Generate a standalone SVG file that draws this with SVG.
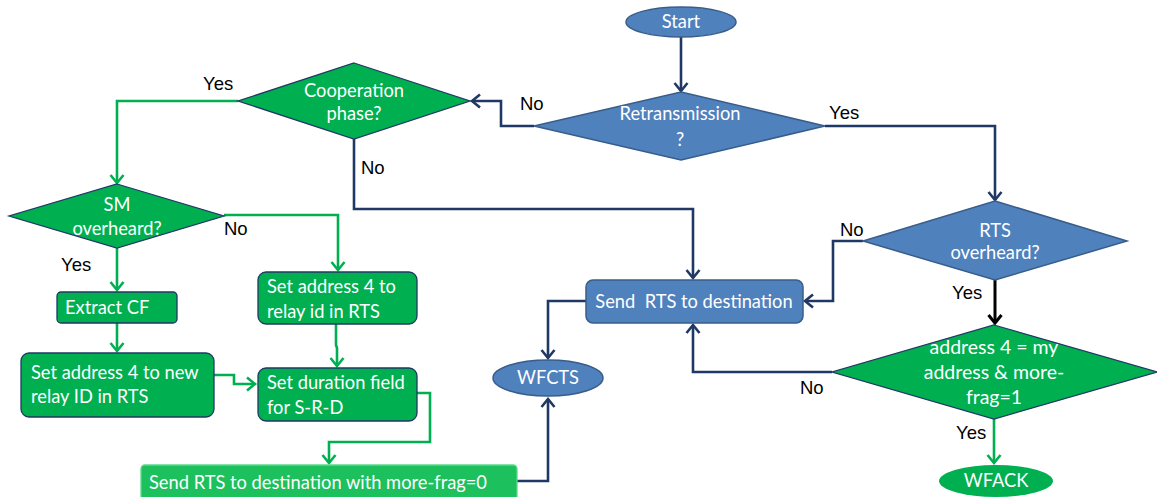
<svg xmlns="http://www.w3.org/2000/svg" width="1157" height="497" viewBox="0 0 1157 497">
  <style>
    .blue { fill: #4f81bd; stroke: #385d8a; stroke-width: 1.5; }
    .green { fill: #00b050; stroke: #1f3864; stroke-width: 1.3; }
    .green2 { fill: #1cc05c; stroke: #5bd98a; stroke-width: 1.3; }
    .nt { font-family: Lato, "Open Sans", sans-serif; font-size: 18.3px; fill: #ffffff; }
    .c { text-anchor: middle; }
    .lbl { font-family: "Liberation Sans", Arial, sans-serif; font-size: 18.5px; fill: #000000; }
    .navy { fill: none; stroke: #1f3864; stroke-width: 2.6; marker-end: url(#arrNavy); }
    .gline { fill: none; stroke: #00b050; stroke-width: 2.6; marker-end: url(#arrGreen); }
    .bline { fill: none; stroke: #000000; stroke-width: 3; marker-end: url(#arrBlack); }
  </style>
  <defs>
    <marker id="arrNavy" markerUnits="userSpaceOnUse" markerWidth="16" markerHeight="16" viewBox="-9 -8 11 16" refX="0" refY="0" orient="auto">
      <path d="M-8,-6.5 L0,0 L-8,6.5" fill="none" stroke="#1f3864" stroke-width="2.6" stroke-linejoin="miter"/>
    </marker>
    <marker id="arrGreen" markerUnits="userSpaceOnUse" markerWidth="16" markerHeight="16" viewBox="-9 -8 11 16" refX="0" refY="0" orient="auto">
      <path d="M-8,-6.5 L0,0 L-8,6.5" fill="none" stroke="#00b050" stroke-width="2.6"/>
    </marker>
    <marker id="arrBlack" markerUnits="userSpaceOnUse" markerWidth="16" markerHeight="16" viewBox="-9 -8 11 16" refX="0" refY="0" orient="auto">
      <path d="M-8,-6.5 L0,0 L-8,6.5" fill="none" stroke="#000000" stroke-width="3"/>
    </marker>
  </defs>
  <rect width="1157" height="497" fill="#ffffff"/>

  <!-- connectors -->
  <g id="connectors">
    <path class="navy" d="M681,37 L681,91"/>
    <path class="navy" d="M534,126 L501,126 L501,101 L472,101"/>
    <path class="navy" d="M825,126 L995,126 L995,200"/>
    <path class="navy" d="M354,139 L354,209 L693,209 L693,278"/>
    <path class="navy" d="M863,241 L833,241 L833,301 L805,301"/>
    <path class="bline" d="M995,280 L995,323"/>
    <path class="navy" d="M832,372 L693,372 L693,325"/>
    <path class="gline" d="M994,419 L994,463"/>
    <path class="navy" d="M586,301 L548,301 L548,358"/>
    <path class="navy" d="M517,481 L548,481 L548,399"/>
    <path class="gline" d="M238,101 L117,101 L117,183"/>
    <path class="gline" d="M224,215 L338,215 L338,270"/>
    <path class="gline" d="M117,248 L117,290"/>
    <path class="gline" d="M117,322 L117,351"/>
    <path class="gline" d="M336,324 L336,345 L337,348 L337,366"/>
    <path class="gline" d="M214,375 L234,375 L234,384 L255,384"/>
    <path class="gline" d="M417,393 L430,393 L430,442 L329,442 L329,463"/>
  </g>

  <!-- edge labels -->
  <g id="labels">
    <text class="lbl" x="203" y="90">Yes</text>
    <text class="lbl" x="520" y="110">No</text>
    <text class="lbl" x="829" y="119">Yes</text>
    <text class="lbl" x="361" y="174">No</text>
    <text class="lbl" x="840" y="236">No</text>
    <text class="lbl" x="224" y="235">No</text>
    <text class="lbl" x="61" y="271">Yes</text>
    <text class="lbl" x="952" y="299">Yes</text>
    <text class="lbl" x="800" y="394">No</text>
    <text class="lbl" x="956" y="439">Yes</text>
  </g>

  <g id="start">
    <ellipse class="blue" cx="681" cy="22" rx="55" ry="15"/>
    <text class="nt c" x="681" y="28">Start</text>
  </g>

  <g id="retransmission">
    <polygon class="blue" points="681,92 825,126 681,160 534,126"/>
    <text class="nt c" x="680" y="120">Retransmission</text>
    <text class="nt c" x="680" y="146">?</text>
  </g>

  <g id="cooperation">
    <polygon class="green" points="354,63 470,101 354,139 238,101"/>
    <text class="nt c" x="354" y="97">Cooperation</text>
    <text class="nt c" x="354" y="120">phase?</text>
  </g>

  <g id="rts-overheard">
    <polygon class="blue" points="995,201 1127,241 995,280 863,241"/>
    <text class="nt c" x="995" y="237">RTS</text>
    <text class="nt c" x="995" y="259">overheard?</text>
  </g>

  <g id="send-rts">
    <rect class="blue" x="586" y="280" width="217" height="43" rx="7"/>
    <text class="nt c" x="694" y="308" xml:space="preserve">Send  RTS to destination</text>
  </g>

  <g id="address-check">
    <polygon class="green" points="994,325 1157,372 994,419 832,372"/>
    <text class="nt c" x="994" y="354" style="font-size:19.5px">address 4 = my</text>
    <text class="nt c" x="994" y="379" style="font-size:19.5px">address &amp; more-</text>
    <text class="nt c" x="994" y="404" style="font-size:19.5px">frag=1</text>
  </g>

  <g id="wfack">
    <ellipse class="green" cx="996" cy="481" rx="57" ry="16" style="stroke:none"/>
    <text class="nt c" x="996" y="487">WFACK</text>
  </g>

  <g id="wfcts">
    <ellipse class="blue" cx="548" cy="378" rx="55" ry="18"/>
    <text class="nt c" x="548" y="384">WFCTS</text>
  </g>

  <g id="sm-overheard">
    <polygon class="green" points="117,184 224,216 117,248 9,216"/>
    <text class="nt c" x="117" y="211">SM</text>
    <text class="nt c" x="117" y="235">overheard?</text>
  </g>

  <g id="extract-cf">
    <rect class="green" x="57" y="292" width="120" height="31" rx="4"/>
    <text class="nt" x="65" y="314">Extract CF</text>
  </g>

  <g id="set-new-relay">
    <rect class="green" x="21" y="353" width="193" height="64" rx="8"/>
    <text class="nt" x="31" y="379">Set address 4 to new</text>
    <text class="nt" x="31" y="403">relay ID in RTS</text>
  </g>

  <g id="set-relay-id">
    <rect class="green" x="258" y="272" width="159" height="52" rx="8"/>
    <text class="nt" x="267" y="293">Set address 4 to</text>
    <text class="nt" x="267" y="318">relay id in RTS</text>
  </g>

  <g id="set-duration">
    <rect class="green" x="258" y="368" width="159" height="53" rx="8"/>
    <text class="nt" x="267" y="389">Set duration field</text>
    <text class="nt" x="267" y="414">for S-R-D</text>
  </g>

  <g id="send-more-frag">
    <rect class="green2" x="141" y="465" width="376" height="40" rx="4"/>
    <text class="nt" x="149" y="489">Send RTS to destination with more-frag=0</text>
  </g>
</svg>
